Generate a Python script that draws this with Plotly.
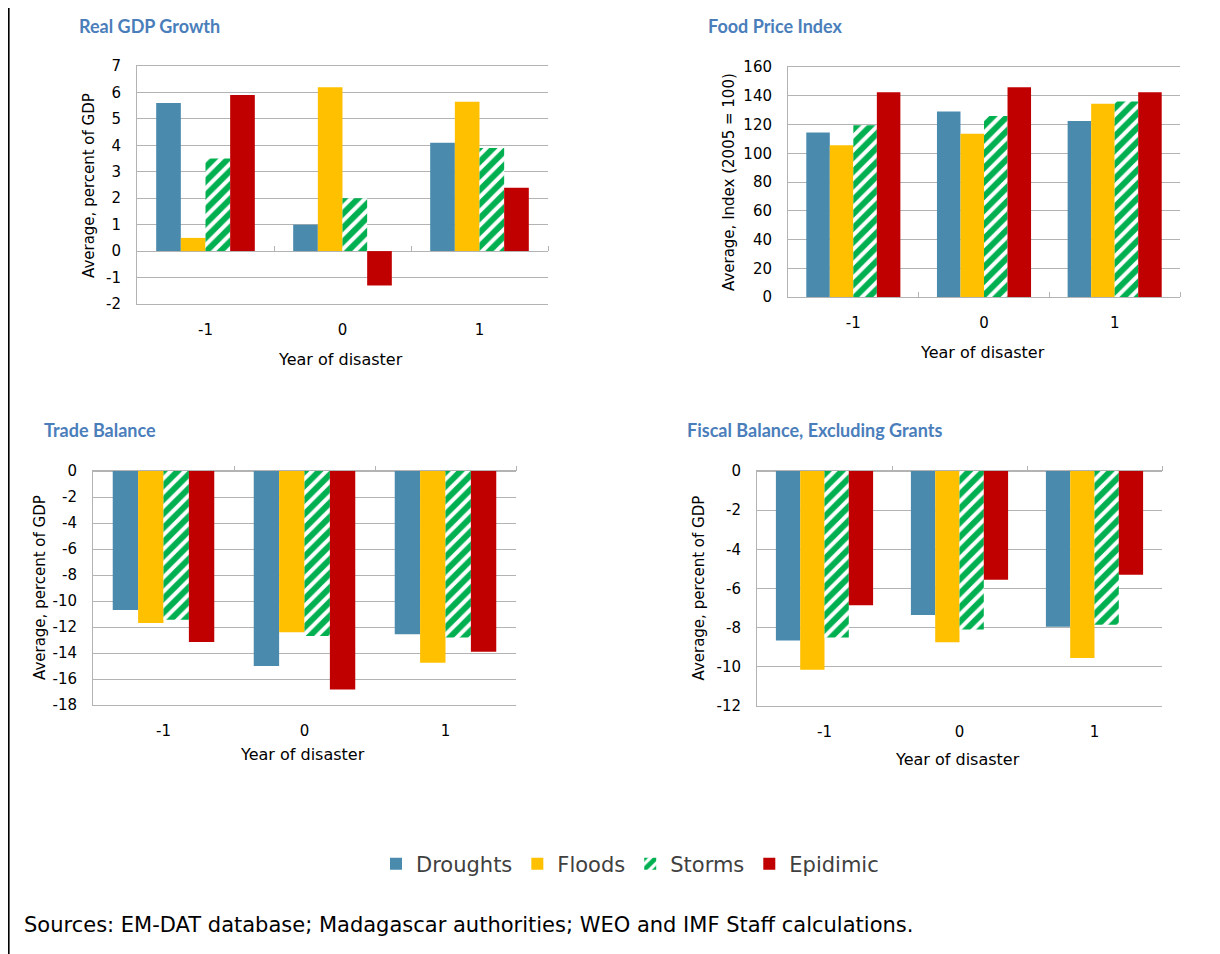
import plotly.graph_objects as go

W, H = 1220, 954

years = ["-1", "0", "1"]
series = ["Droughts", "Floods", "Storms", "Epidimic"]
colors = {"Droughts": "#4A8BAD", "Floods": "#FFC000", "Storms": "#00B050", "Epidimic": "#C00000"}

# values (per series: years -1, 0, 1)
gdp_growth = {
    "Droughts": [5.6, 1.0, 4.1],
    "Floods": [0.5, 6.2, 5.65],
    "Storms": [3.5, 2.0, 3.9],
    "Epidimic": [5.9, -1.3, 2.4],
}
food_price = {
    "Droughts": [114.5, 129, 122.5],
    "Floods": [105.5, 113.5, 134.5],
    "Storms": [119.5, 126, 136],
    "Epidimic": [142.5, 146, 142.5],
}
trade_balance = {
    "Droughts": [-10.7, -15.0, -12.55],
    "Floods": [-11.7, -12.4, -14.75],
    "Storms": [-11.45, -12.7, -12.8],
    "Epidimic": [-13.15, -16.8, -13.9],
}
fiscal_balance = {
    "Droughts": [-8.65, -7.35, -7.95],
    "Floods": [-10.15, -8.75, -9.55],
    "Storms": [-8.5, -8.1, -7.85],
    "Epidimic": [-6.85, -5.55, -5.3],
}

panels = [
    # data, title, ytitle, y range, dtick, plot box px (left, right, top, bottom), title pos, ytitle x, xtitle y
    (gdp_growth, "Real GDP Growth", "Average, percent of GDP", [-2, 7], 1, (137, 548, 66, 304), (77, 26), 89, 359),
    (food_price, "Food Price Index", "Average, Index (2005 = 100)", [0, 160], 20, (788, 1180, 67, 297), (706, 26), 729, 352),
    (trade_balance, "Trade Balance", "Average, percent of GDP", [-18, 0], 2, (93, 516, 471, 705), (42, 430), 40, 754),
    (fiscal_balance, "Fiscal Balance, Excluding Grants", "Average, percent of GDP", [-12, 0], 2, (757, 1162, 471, 706), (685, 430), 698, 759),
]

GRID = "#B3B3B3"
TICKFONT = dict(family="DejaVu Sans", size=15, color="#000000")
OFF = 8  # page body margin, both directions

def px_x(v):
    return (v - OFF) / W

def px_y(v):
    return 1 - (v - OFF) / H

fig = go.Figure()
annotations = []

for i, (data, title, ytitle, yrange, dtick, box, tpos, ytx, xty) in enumerate(panels):
    n = "" if i == 0 else str(i + 1)
    left, right, top, bottom = box
    for s in series:
        marker = dict(color=colors[s], line=dict(width=0))
        if s == "Storms":
            marker = dict(
                color="white",
                line=dict(width=0),
                pattern=dict(shape="/", fgcolor=colors[s], bgcolor="white", fgopacity=1,
                             size=10, solidity=0.6),
            )
        fig.add_trace(go.Bar(
            x=years, y=data[s], name=s, marker=marker,
            xaxis="x" + n, yaxis="y" + n,
            showlegend=(i == 0), legendgroup=s,
        ))
    yticks = list(range(yrange[0], yrange[1] + 1, dtick))
    fig.layout["xaxis" + n] = dict(
        domain=[px_x(left), px_x(right)], anchor="y" + n, type="category",
        showgrid=False, showline=True, mirror=True, linecolor=GRID, linewidth=1,
        ticks="", tickfont=TICKFONT, ticklabelstandoff=12, automargin=False,
    )
    fig.layout["yaxis" + n] = dict(
        domain=[px_y(bottom), px_y(top)], anchor="x" + n, range=yrange,
        tickvals=yticks, ticktext=[str(v) for v in yticks],
        showgrid=True, gridcolor=GRID, gridwidth=1, zeroline=True, zerolinecolor=GRID,
        zerolinewidth=1, showline=True, linecolor=GRID, linewidth=1,
        ticks="", tickfont=TICKFONT, ticklabelstandoff=12, automargin=False,
    )
    # boundary tick marks sitting on the zero line
    zero_frac = (0 - yrange[0]) / (yrange[1] - yrange[0])
    zpos = px_y(bottom) + zero_frac * (px_y(top) - px_y(bottom))
    k = str(i + 5)
    fig.layout["xaxis" + k] = dict(
        overlaying="x" + n, anchor="free", position=zpos, side="top",
        range=[-0.5, 2.5], tickvals=[0.5, 1.5, 2.5], ticks="outside", ticklen=5,
        tickcolor=GRID, tickwidth=1, showticklabels=False, showgrid=False,
        zeroline=False, showline=False, automargin=False,
    )
    fig.add_trace(go.Scatter(x=[], y=[], xaxis="x" + k, yaxis="y" + n,
                             showlegend=False, hoverinfo="skip"))
    annotations.append(dict(
        text="<b>" + title + "</b>", x=px_x(tpos[0]), y=px_y(tpos[1]), xref="paper", yref="paper",
        xanchor="left", yanchor="middle", showarrow=False,
        font=dict(family="Lato", size=18, color="#4A7EBB"),
    ))
    annotations.append(dict(
        text=ytitle, x=px_x(ytx), y=px_y((top + bottom) / 2), xref="paper", yref="paper",
        xanchor="center", yanchor="middle", textangle=-90, showarrow=False,
        font=dict(family="DejaVu Sans", size=15, color="#000000"),
    ))
    annotations.append(dict(
        text="Year of disaster", x=px_x((left + right) / 2 - 2), y=px_y(xty), xref="paper", yref="paper",
        xanchor="center", yanchor="middle", showarrow=False,
        font=dict(family="DejaVu Sans", size=16, color="#000000"),
    ))

annotations.append(dict(
    text="Sources: EM-DAT database; Madagascar authorities; WEO and IMF Staff calculations.",
    x=px_x(22), y=px_y(925), xref="paper", yref="paper", xanchor="left", yanchor="middle",
    showarrow=False, font=dict(family="DejaVu Sans", size=21, color="#000000"),
))

fig.update_layout(
    width=W, height=H,
    margin=dict(l=0, r=0, t=0, b=0),
    paper_bgcolor="white", plot_bgcolor="white",
    barmode="group", bargap=0.28, bargroupgap=0,
    annotations=annotations,
    legend=dict(
        orientation="h", x=px_x(630), y=px_y(864), xanchor="center", yanchor="middle",
        font=dict(family="DejaVu Sans", size=21, color="#404040"),
        itemwidth=30, traceorder="normal",
    ),
    shapes=[dict(type="line", xref="paper", yref="paper", x0=0.0005, x1=0.0005, y0=0, y1=1,
                 line=dict(color="black", width=2))],
)

fig.write_html("out.html")
